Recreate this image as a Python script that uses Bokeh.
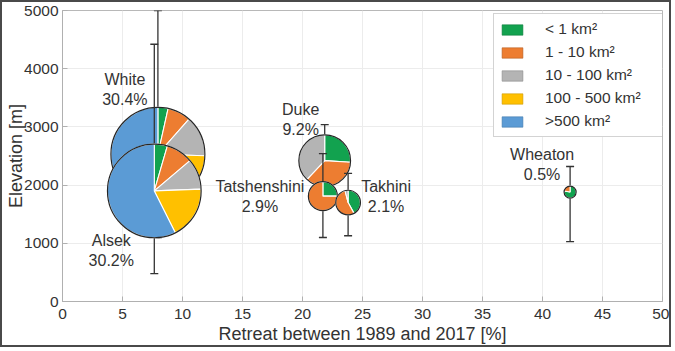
import numpy as np
from bokeh.plotting import figure
from bokeh.models import ColumnDataSource, FixedTicker, Legend, LegendItem
from bokeh.core.properties import value
from bokeh.embed import file_html
from bokeh.resources import INLINE

# ---------------- data ----------------
glaciers = ["White", "Alsek", "Duke", "Tatshenshini", "Takhini", "Wheaton"]
area_pct = [30.4, 30.2, 9.2, 2.9, 2.1, 0.5]          # share of total glacier area [%]
retreat = [7.95, 7.65, 21.85, 21.7, 23.8, 42.3]      # retreat 1989-2017 [%]
elev_mid = [2530, 1900, 2420, 1810, 1700, 1880]      # elevation [m]
elev_min = [1100, 480, 1800, 1100, 1130, 1030]
elev_max = [5000, 4420, 3040, 2540, 2200, 2320]

size_classes = ["< 1 km\u00b2", "1 - 10 km\u00b2", "10 - 100 km\u00b2",
                "100 - 500 km\u00b2", ">500 km\u00b2"]
# fraction of each glacier's area in each size class (order as size_classes)
share_white = [0.035, 0.080, 0.140, 0.140, 0.605]
share_alsek = [0.045, 0.093, 0.106, 0.182, 0.574]
share_duke = [0.26, 0.36, 0.38, 0.0, 0.0]
share_tatshenshini = [0.25, 0.75, 0.0, 0.0, 0.0]
share_takhini = [0.42, 0.54, 0.04, 0.0, 0.0]
share_wheaton = [0.78, 0.22, 0.0, 0.0, 0.0]
shares = [share_white, share_alsek, share_duke, share_tatshenshini,
          share_takhini, share_wheaton]

x_ticks = [0, 5, 10, 15, 20, 25, 30, 35, 40, 45, 50]
y_ticks = [0, 1000, 2000, 3000, 4000, 5000]

# ---------------- style ----------------
class_colors = ["#12a24f", "#ed7d31", "#b4b4b4", "#ffc000", "#5b9bd5"]
legend_edge = ["#0c7a3a", "#b35a1e", "#8a8a8a", "#c99700", "#3f78ab"]
FONT = "Liberation Sans"
TXT = "#333333"
EB = "#333333"
R_SCALE = 8.52  # px per sqrt(% area)
label_dx = [-33, -43, -24, -63, 38, -28]
label_dy = [-65, 60, -41, 0, -6, -28]

p = figure(width=671, height=347, x_range=(0, 50), y_range=(0, 5000),
           output_backend="svg", toolbar_location=None,
           min_border_left=60, min_border_right=11, min_border_top=8,
           min_border_bottom=48, background_fill_color="white",
           border_fill_color="white",
           styles={"border": "2px solid #4a4a4a"})

p.outline_line_color = "#b8b8b8"
p.outline_line_width = 1
p.xgrid.grid_line_color = "#ececec"
p.ygrid.grid_line_color = "#ececec"
p.xaxis.ticker = FixedTicker(ticks=x_ticks)
p.yaxis.ticker = FixedTicker(ticks=y_ticks)
p.xgrid.ticker = FixedTicker(ticks=x_ticks)
p.ygrid.ticker = FixedTicker(ticks=y_ticks)
for ax in (p.xaxis, p.yaxis):
    ax.axis_line_color = "#b0b0b0"
    ax.major_tick_line_color = "#b0b0b0"
    ax.major_tick_in = 5
    ax.major_tick_out = 0
    ax.minor_tick_line_color = None
    ax.major_label_text_font = FONT
    ax.major_label_text_font_size = "15.5px"
    ax.major_label_text_color = TXT
    ax.axis_label_text_font = FONT
    ax.axis_label_text_font_size = "18px"
    ax.axis_label_text_font_style = "normal"
    ax.axis_label_text_color = TXT
p.xaxis.axis_label = "Retreat between 1989 and 2017 [%]"
p.yaxis.axis_label = "Elevation [m]"
p.xaxis.major_label_standoff = 7
p.xaxis.axis_label_standoff = 2
p.yaxis.major_label_standoff = 4
p.yaxis.axis_label_standoff = -5

pie_renderers = []
for i, g in enumerate(glaciers):
    # error bar (elevation range)
    src_e = ColumnDataSource(dict(x=[retreat[i]], lo=[elev_min[i]], hi=[elev_max[i]]))
    p.segment(x0="x", y0="lo", x1="x", y1="hi", source=src_e,
              line_color=EB, line_width=1.3)
    p.scatter(x="x", y="lo", source=src_e, marker="dash", size=8,
              line_color=EB, line_width=1.3)
    p.scatter(x="x", y="hi", source=src_e, marker="dash", size=8,
              line_color=EB, line_width=1.3)
    # pie
    fr = np.array(shares[i], dtype=float)
    cum = np.concatenate([[0.0], np.cumsum(fr)])
    keep = fr > 0
    start = (np.pi / 2 - 2 * np.pi * cum[:-1])[keep]
    end = (np.pi / 2 - 2 * np.pi * cum[1:])[keep]
    r = R_SCALE * np.sqrt(area_pct[i])
    n = int(keep.sum())
    src_p = ColumnDataSource(dict(
        x=[retreat[i]] * n, y=[elev_mid[i]] * n,
        start=list(start), end=list(end),
        color=[c for c, k in zip(class_colors, keep) if k]))
    pr = p.wedge(x="x", y="y", radius=r, radius_units="screen",
                 start_angle="start", end_angle="end", direction="clock",
                 fill_color="color", line_color="white", line_width=1.1,
                 source=src_p)
    pie_renderers.append(pr)
    p.circle(x=[retreat[i]], y=[elev_mid[i]], radius=r, radius_units="screen",
             fill_color=None, line_color="#262626", line_width=1.2)

# labels
lab_src = ColumnDataSource(dict(
    x=retreat, y=elev_mid,
    text=[f"{g}\n{a:.1f}%" for g, a in zip(glaciers, area_pct)],
    dx=label_dx, dy=label_dy))
p.text(x="x", y="y", text="text", x_offset="dx", y_offset="dy", source=lab_src,
       text_align="center", text_baseline="middle",
       text_font=value(FONT), text_font_size="16px", text_color=TXT,
       text_line_height=1.18)

# legend swatches: glyphs with no drawable position (NaN), legend only
items = []
for c, ec, lab in zip(class_colors, legend_edge, size_classes):
    rr = p.quad(left=[np.nan], right=[np.nan], top=[np.nan], bottom=[np.nan],
                fill_color=c, line_color=ec, line_width=0.6)
    items.append(LegendItem(label=lab, renderers=[rr]))
legend = Legend(items=items, location=(431, 164), margin=0, padding=5,
                spacing=3, glyph_width=26, glyph_height=13, label_standoff=20,
                label_height=20, label_width=116,
                label_text_font=FONT, label_text_font_size="15.5px",
                label_text_color=TXT, border_line_color="#a8a8a8",
                border_line_width=1, background_fill_color="white",
                background_fill_alpha=1.0)
p.add_layout(legend)

open("out.html", "w").write(file_html(p, INLINE))
